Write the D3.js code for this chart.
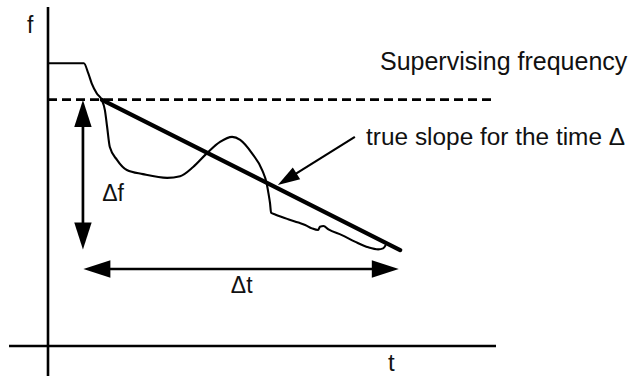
<!DOCTYPE html>
<html>
<head>
<meta charset="utf-8">
<script src="https://cdn.jsdelivr.net/npm/d3@7"></script>
<style>
  html, body { margin: 0; padding: 0; background: #fff; }
  svg { display: block; }
  text { font-family: "Liberation Sans", Arial, sans-serif; fill: #111; }
</style>
</head>
<body>
<div id="chart"></div>
<script>
// ---- data (t, f in arbitrary units: 0..100) ----
const curveT = [0, 8.0, 9.0, 9.75, 10.9, 12.0, 12.7, 13.2, 13.8, 15.4, 17.6, 21.2, 26.6, 29.5, 32.4, 35.5, 38.4, 41.1, 42.9, 45.5, 47.8, 48.8, 49.2, 49.55, 49.8, 50.7, 53.6, 55.9, 57.4, 58.9, 60.3, 60.7, 61.5, 62.6, 65.6, 68.5, 71.5, 73.7, 74.8, 75.4];
const curveF = [83.4, 83.4, 80.4, 77.5, 74.5, 72.6, 69.6, 64.6, 58.7, 54.9, 51.9, 50.7, 49.6, 50.1, 52.8, 56.9, 60.2, 61.7, 60.8, 56.9, 51.9, 48.0, 45.1, 42.2, 39.3, 38.8, 37.4, 36.4, 35.7, 34.7, 34.2, 35.2, 35.4, 34.4, 32.7, 30.8, 29.1, 28.5, 28.8, 29.8];
const slopeT = [12.05, 78.6];
const slopeF = [72.6, 28.3];
const supervisingF = 72.65;
const supervisingT = [0, 99.8];
const deltaFT = 7.8;
const deltaFRange = [72.6, 28.5];
const deltaTF = 22.7;
const deltaTRange = [7.9, 78.3];
const pointerT = [68.5, 51.3];
const pointerF = [61.7, 47.5];
const axisLabels = ["f", "t"];
const annotations = ["Supervising frequency", "true slope for the time \u0394", "\u0394f", "\u0394t"];

// ---- layout ----
const W = 630, H = 376;
const x = d3.scaleLinear().domain([0, 100]).range([48, 496]);
const y = d3.scaleLinear().domain([0, 100]).range([346, 7]);

const svg = d3.select("#chart").append("svg").attr("width", W).attr("height", H);

// axes
svg.append("line").attr("x1", x(0)).attr("x2", x(0)).attr("y1", y(100)).attr("y2", H)
  .attr("stroke", "#000").attr("stroke-width", 2.6);
svg.append("line").attr("x1", x(-8.7)).attr("x2", x(100)).attr("y1", y(0)).attr("y2", y(0))
  .attr("stroke", "#000").attr("stroke-width", 2.6);

// supervising frequency dashed line
svg.append("line").attr("x1", x(supervisingT[0])).attr("x2", x(supervisingT[1]))
  .attr("y1", y(supervisingF)).attr("y2", y(supervisingF))
  .attr("stroke", "#000").attr("stroke-width", 2.8).attr("stroke-dasharray", "9,5");

// frequency curve
const pts = curveT.map((t, i) => [t, curveF[i]]);
svg.append("path").datum(pts)
  .attr("d", d3.line().x(d => x(d[0])).y(d => y(d[1])).curve(d3.curveMonotoneX))
  .attr("fill", "none").attr("stroke", "#000").attr("stroke-width", 2.1)
  .attr("stroke-linejoin", "round");

// true slope line
svg.append("line").attr("x1", x(slopeT[0])).attr("y1", y(slopeF[0]))
  .attr("x2", x(slopeT[1])).attr("y2", y(slopeF[1]))
  .attr("stroke", "#000").attr("stroke-width", 4.3).attr("stroke-linecap", "round");

// arrow helper (pixel-space head from data endpoints)
function head(x0, y0, x1, y1, len, hw) {
  const dx = x1 - x0, dy = y1 - y0, L = Math.hypot(dx, dy);
  const ux = dx / L, uy = dy / L;
  const bx = x1 - ux * len, by = y1 - uy * len;
  return [[x1, y1], [bx - uy * hw, by + ux * hw], [bx + uy * hw, by - ux * hw]];
}
function arrow(p0, p1, sw, len, hw, both) {
  const g = svg.append("g");
  const dx = p1[0] - p0[0], dy = p1[1] - p0[1], L = Math.hypot(dx, dy);
  const ux = dx / L, uy = dy / L;
  const s0 = both ? [p0[0] + ux * (len - 2), p0[1] + uy * (len - 2)] : p0;
  const s1 = [p1[0] - ux * (len - 2), p1[1] - uy * (len - 2)];
  g.append("line").attr("x1", s0[0]).attr("y1", s0[1]).attr("x2", s1[0]).attr("y2", s1[1])
    .attr("stroke", "#000").attr("stroke-width", sw);
  g.append("polygon").attr("points", head(p0[0], p0[1], p1[0], p1[1], len, hw).join(" ")).attr("fill", "#000");
  if (both) g.append("polygon").attr("points", head(p1[0], p1[1], p0[0], p0[1], len, hw).join(" ")).attr("fill", "#000");
}

arrow([x(deltaFT), y(deltaFRange[0])], [x(deltaFT), y(deltaFRange[1])], 2.7, 27, 8.7, true);
arrow([x(deltaTRange[0]), y(deltaTF)], [x(deltaTRange[1]), y(deltaTF)], 2.4, 27, 8.7, true);
arrow([x(pointerT[0]), y(pointerF[0])], [x(pointerT[1]), y(pointerF[1])], 2.2, 22, 7, false);

// texts
svg.append("text").attr("x", x(-4.7)).attr("y", y(92.3)).attr("font-size", 23).text(axisLabels[0]);
svg.append("text").attr("x", x(75.9)).attr("y", y(-7.3)).attr("font-size", 24).text(axisLabels[1]);
svg.append("text").attr("x", x(74.1)).attr("y", y(81.4)).attr("font-size", 25).text(annotations[0]);
svg.append("text").attr("x", x(71.0)).attr("y", y(59.3)).attr("font-size", 24.4).text(annotations[1]);
svg.append("text").attr("x", x(12.1)).attr("y", y(42.9)).attr("font-size", 23).text(annotations[2]);
svg.append("text").attr("x", x(40.8)).attr("y", y(15.6)).attr("font-size", 23).text(annotations[3]);
</script>
</body>
</html>
